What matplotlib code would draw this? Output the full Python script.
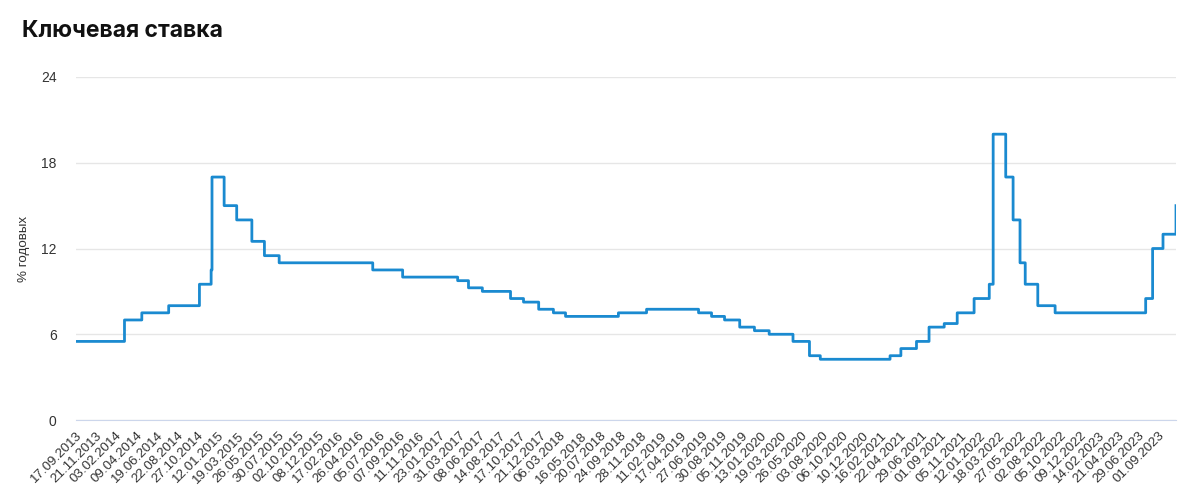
import numpy as np
import pandas as pd
import matplotlib
matplotlib.use('Agg')
import matplotlib.pyplot as plt

# Ключевая ставка ЦБ РФ: дата вступления в силу -> ставка, % годовых
change_dates = ['2013-09-13', '2014-03-03', '2014-04-28', '2014-07-28', '2014-11-05',
                '2014-12-12', '2014-12-16', '2015-02-02', '2015-03-16', '2015-05-05',
                '2015-06-16', '2015-08-03', '2016-06-14', '2016-09-19', '2017-03-27',
                '2017-05-02', '2017-06-19', '2017-09-18', '2017-10-30', '2017-12-18',
                '2018-02-12', '2018-03-26', '2018-09-17', '2018-12-17', '2019-06-17',
                '2019-07-29', '2019-09-09', '2019-10-28', '2019-12-16', '2020-02-10',
                '2020-04-27', '2020-06-22', '2020-07-27', '2021-03-22', '2021-04-26',
                '2021-06-15', '2021-07-26', '2021-09-13', '2021-10-25', '2021-12-20',
                '2022-02-14', '2022-02-28', '2022-04-11', '2022-05-04', '2022-05-27',
                '2022-06-14', '2022-07-25', '2022-09-19', '2023-07-24', '2023-08-15',
                '2023-09-18', '2023-10-30']
rates = [5.5, 7.0, 7.5, 8.0, 9.5,
         10.5, 17.0, 15.0, 14.0, 12.5,
         11.5, 11.0, 10.5, 10.0, 9.75,
         9.25, 9.0, 8.5, 8.25, 7.75,
         7.5, 7.25, 7.5, 7.75, 7.5,
         7.25, 7.0, 6.5, 6.25, 6.0,
         5.5, 4.5, 4.25, 4.5, 5.0,
         5.5, 6.5, 6.75, 7.5, 8.5,
         9.5, 20.0, 17.0, 14.0, 11.0,
         9.5, 8.0, 7.5, 8.5, 12.0,
         13.0, 15.0]

tick_labels = ['17.09.2013', '21.11.2013', '03.02.2014', '09.04.2014', '19.06.2014',
               '22.08.2014', '27.10.2014', '12.01.2015', '19.03.2015', '26.05.2015',
               '30.07.2015', '02.10.2015', '08.12.2015', '17.02.2016', '26.04.2016',
               '05.07.2016', '07.09.2016', '11.11.2016', '23.01.2017', '31.03.2017',
               '08.06.2017', '14.08.2017', '17.10.2017', '21.12.2017', '06.03.2018',
               '16.05.2018', '20.07.2018', '24.09.2018', '28.11.2018', '11.02.2019',
               '17.04.2019', '27.06.2019', '30.08.2019', '05.11.2019', '13.01.2020',
               '19.03.2020', '26.05.2020', '03.08.2020', '06.10.2020', '10.12.2020',
               '16.02.2021', '22.04.2021', '29.06.2021', '01.09.2021', '05.11.2021',
               '12.01.2022', '18.03.2022', '27.05.2022', '02.08.2022', '05.10.2022',
               '09.12.2022', '14.02.2023', '21.04.2023', '29.06.2023', '01.09.2023']

y_ticks = [0, 6, 12, 18, 24]

start, end = '2013-09-17', '2023-10-30'

# торговые дни (без основных праздников РФ)
holidays = []
for year in range(2013, 2024):
    holidays += [f'{year}-01-0{d}' for d in range(1, 9)]
    holidays += [f'{year}-{md}' for md in ['02-23', '03-08', '05-01', '05-09', '06-12', '11-04']]
days = pd.bdate_range(start, end, freq='C', holidays=holidays)

change_dt = pd.to_datetime(change_dates)
pos = np.searchsorted(change_dt.values, days.values, side='right') - 1
values = np.array(rates)[pos]
x = np.arange(len(days))

tick_dt = pd.to_datetime(tick_labels, format='%d.%m.%Y')
tick_pos = np.searchsorted(days.values, tick_dt.values)

fig = plt.figure(figsize=(12, 4.92), dpi=100)
ax = fig.add_axes([0.0633, 0.1463, 0.9167, 0.6972])

ax.plot(x, values, drawstyle='steps-post', color='#1a8ad0', lw=2, zorder=3)

ax.set_xlim(0, len(days) - 1)
ax.set_ylim(0, 24)
ax.set_yticks(y_ticks)
ax.set_xticks(tick_pos)
ax.set_xticklabels(tick_labels, rotation=45, ha='right', rotation_mode='anchor',
                   fontsize=9.6, color='#333333', family='Liberation Sans')
for lbl in ax.get_yticklabels():
    lbl.set_fontsize(10)
    lbl.set_color('#333333')
    lbl.set_family('Liberation Sans')
ax.tick_params(axis='both', length=0)
ax.tick_params(axis='y', pad=14)
ax.tick_params(axis='x', pad=7)

ax.grid(axis='y', color='#e6e6e6', lw=1)
for side in ['top', 'right', 'left']:
    ax.spines[side].set_visible(False)
ax.spines['bottom'].set_color('#ccd6eb')
ax.set_axisbelow(True)

ax.set_ylabel('% годовых', fontsize=9.6, color='#333333', family='Liberation Sans', labelpad=8)

fig.text(0.018, 0.938, 'Ключевая ставка', fontsize=16.5, fontweight='bold',
         color='#111111', family='Inter', va='center', ha='left')

fig.savefig('out.png', dpi=100, facecolor='white')
